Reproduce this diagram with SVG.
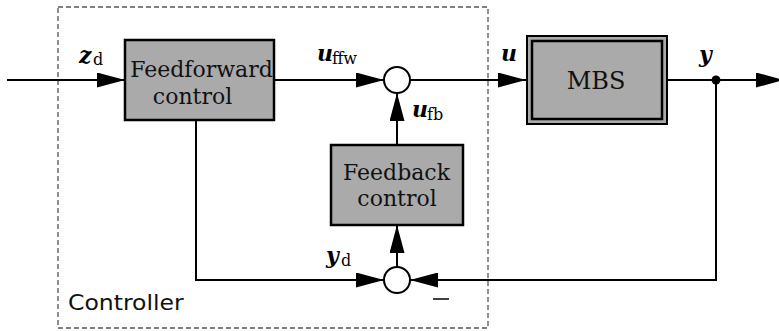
<svg xmlns="http://www.w3.org/2000/svg" width="779" height="331" viewBox="0 0 779 331">
<style>
.box{fill:#aaaaaa;stroke:#000;stroke-width:2.5}
.ln{fill:none;stroke:#000;stroke-width:2}
.sum{fill:#fff;stroke:#000;stroke-width:2}
.lbl{font-family:'DejaVu Serif',serif;font-size:22px;fill:#111;text-anchor:middle}
.m{font-family:'DejaVu Serif',serif;font-size:22px;font-style:italic;font-weight:bold;fill:#000}
.s{font-family:'DejaVu Serif',serif;font-size:16px;fill:#000}
.c{font-family:'DejaVu Sans',sans-serif;font-size:22px;fill:#111}
</style>
<defs>
<marker id="ah" markerUnits="userSpaceOnUse" markerWidth="28" markerHeight="15" refX="28" refY="7.5" orient="auto">
<path d="M0,0 L28,7.5 L0,15 z" fill="#000"/>
</marker>
</defs>
<rect x="58" y="7" width="430" height="321" fill="none" stroke="#555" stroke-width="1.3" stroke-dasharray="5,3"/>
<g transform="translate(68,310) scale(1.07,1)"><text class="c" x="0" y="0">Controller</text></g>
<g id="connectors">
<path class="ln" d="M7,80 H125" marker-end="url(#ah)"/>
<path class="ln" d="M274,80 H384" marker-end="url(#ah)"/>
<path class="ln" d="M410,80 H526" marker-end="url(#ah)"/>
<path class="ln" d="M668,80 H784" marker-end="url(#ah)"/>
<path class="ln" d="M716,80 V280 H410" marker-end="url(#ah)"/>
<path class="ln" d="M196,120 V280 H384" marker-end="url(#ah)"/>
<path class="ln" d="M397,267 V225" marker-end="url(#ah)"/>
<path class="ln" d="M397,145 V93" marker-end="url(#ah)"/>
<circle cx="716" cy="80" r="4.5" fill="#000"/>
</g>
<g id="ffw">
<rect class="box" x="125" y="40" width="149" height="80"/>
<text class="lbl" x="201.5" y="77">Feedforward</text>
<text class="lbl" x="192.5" y="104">control</text>
</g>
<g id="fb">
<rect class="box" x="331" y="145" width="132" height="80"/>
<text class="lbl" x="396.5" y="180">Feedback</text>
<text class="lbl" x="397" y="206">control</text>
</g>
<g id="mbs">
<rect x="527" y="36" width="140" height="88" fill="#aaaaaa" stroke="#000" stroke-width="2"/>
<rect x="532" y="41" width="130" height="78" fill="#aaaaaa" stroke="#000" stroke-width="2.5"/>
<text class="lbl" x="596" y="89" style="font-size:24px">MBS</text>
</g>
<g id="sum1"><circle class="sum" cx="397" cy="80" r="13"/></g>
<g id="sum2"><circle class="sum" cx="397" cy="280" r="13"/></g>
<g id="labels">
<text class="m" x="79" y="63">z</text><text class="s" x="93" y="65">d</text>
<text class="m" x="317" y="61">u</text><text class="s" x="332" y="64">ffw</text>
<text class="m" x="501" y="61">u</text>
<text class="m" x="412" y="117">u</text><text class="s" x="427" y="120">fb</text>
<text class="m" x="699" y="62">y</text>
<text class="m" x="326" y="263">y</text><text class="s" x="341" y="266">d</text>
<path d="M433,299 H449" stroke="#000" stroke-width="1.5"/>
</g>
</svg>
